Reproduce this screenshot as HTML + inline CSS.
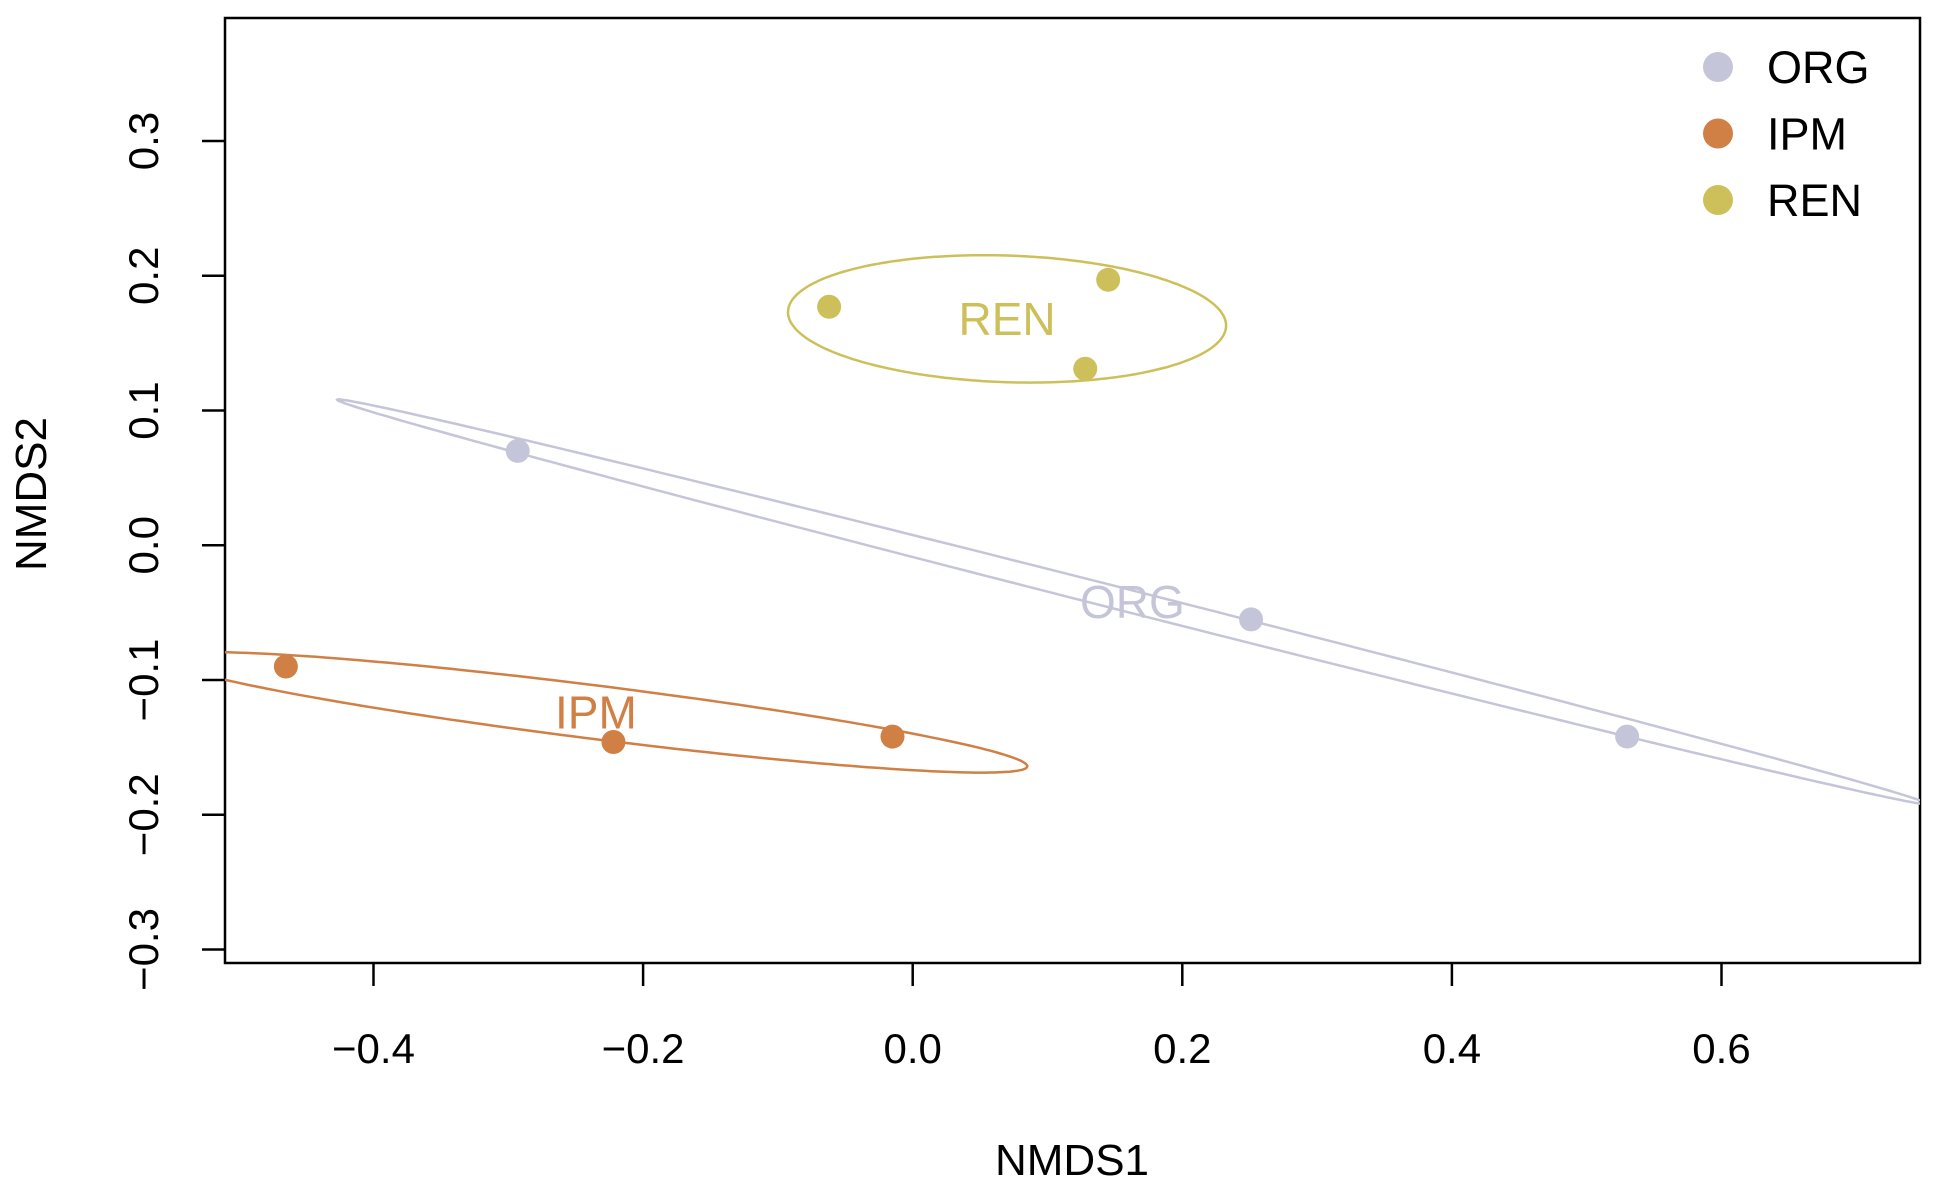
<!DOCTYPE html>
<html><head><meta charset="utf-8"><style>
html,body{margin:0;padding:0;background:#fff;}
svg{display:block;font-family:"Liberation Sans",Arial,sans-serif;}
</style></head><body>
<svg id="chart" width="1936" height="1193" viewBox="0 0 1936 1193">
<defs><clipPath id="plotclip"><rect x="225" y="18" width="1695" height="945"/></clipPath></defs>
<rect x="225" y="18" width="1695" height="945" fill="none" stroke="#000" stroke-width="2.5"/>
<g id="axes"></g>
<g id="ellipses" clip-path="url(#plotclip)"></g>
<g id="points"></g>
<text x="1072" y="1175" font-size="44" text-anchor="middle" fill="#000">NMDS1</text>
<text transform="translate(46,494) rotate(-90)" font-size="44" text-anchor="middle" fill="#000">NMDS2</text>
<g id="legend"></g>
</svg>
<script>
const groups = ["ORG","IPM","REN"];
const colors = ["#c5c5d9","#d07f45","#cdc05a"];
const orgX = [-0.293, 0.251, 0.530];
const orgY = [0.070, -0.055, -0.142];
const ipmX = [-0.465, -0.222, -0.015];
const ipmY = [-0.090, -0.146, -0.142];
const renX = [-0.062, 0.145, 0.128];
const renY = [0.177, 0.197, 0.131];
const xTicks = [-0.4,-0.2,0.0,0.2,0.4,0.6];
const xTickLabels = ["\u22120.4","\u22120.2","0.0","0.2","0.4","0.6"];
const yTicks = [0.3,0.2,0.1,0.0,-0.1,-0.2,-0.3];
const yTickLabels = ["0.3","0.2","0.1","0.0","\u22120.1","\u22120.2","\u22120.3"];
const ellCX = [0.163, -0.235, 0.070];
const ellCY = [-0.042, -0.124, 0.168];
const ellAX = [-0.590, 0.320, 0.1625];
const ellAY = [0.150, -0.040, -0.005];
const ellBY = [0.0085, 0.020, 0.047];

const NS="http://www.w3.org/2000/svg";
const X = v => 373.5 + (v + 0.4) * 1348;
const Y = v => 141 + (0.3 - v) * 1347.5;
function mk(tag, attrs, parent){const e=document.createElementNS(NS,tag);for(const k in attrs)e.setAttribute(k,attrs[k]);parent.appendChild(e);return e;}

const axes=document.getElementById('axes');
xTicks.forEach((t,i)=>{
  const l=mk('line',{x1:X(t),x2:X(t),y1:963,y2:986,stroke:'#000','stroke-width':2.5},axes);
  
  
  const tx=mk('text',{x:X(t),y:1063,'font-size':42,'text-anchor':'middle',fill:'#000'},axes);
  tx.textContent=xTickLabels[i];
  
  
});
yTicks.forEach((t,i)=>{
  const l=mk('line',{x1:202,x2:225,y1:Y(t),y2:Y(t),stroke:'#000','stroke-width':2.5},axes);
  
  
  const tx=mk('text',{transform:`translate(158,${Y(t)}) rotate(-90)`,'font-size':42,'text-anchor':'middle',fill:'#000'},axes);
  tx.textContent=yTickLabels[i];
  
  
});

const eg=document.getElementById('ellipses');
groups.forEach((g,i)=>{
  let d='';
  for(let k=0;k<=240;k++){
    const t=k/240*2*Math.PI;
    const px=X(ellCX[i]+ellAX[i]*Math.cos(t));
    const py=Y(ellCY[i]+ellAY[i]*Math.cos(t)+ellBY[i]*Math.sin(t));
    d+=(k?'L':'M')+px.toFixed(1)+','+py.toFixed(1);
  }
  const p=mk('path',{d:d+'Z',fill:'none',stroke:colors[i],'stroke-width':2.5},eg);
  
  
});

const pg=document.getElementById('points');
const allX=[orgX,ipmX,renX], allY=[orgY,ipmY,renY];
groups.forEach((g,i)=>{
  allX[i].forEach((v,j)=>{
    const c=mk('circle',{cx:X(v),cy:Y(allY[i][j]),r:12,fill:colors[i]},pg);
    
    
  });
  const lt=mk('text',{x:X(ellCX[i]),y:Y(ellCY[i])+16,'font-size':46,'text-anchor':'middle',fill:colors[i]},pg);
  lt.textContent=g;
  
  
});

const lg=document.getElementById('legend');
groups.forEach((g,i)=>{
  const y=67+i*66.5;
  const c=mk('circle',{cx:1718,cy:y,r:15,fill:colors[i]},lg);
  
  
  const t=mk('text',{x:1767,y:y+16,'font-size':45,fill:'#000'},lg);
  t.textContent=g;
  
  
});
</script>
</body></html>
